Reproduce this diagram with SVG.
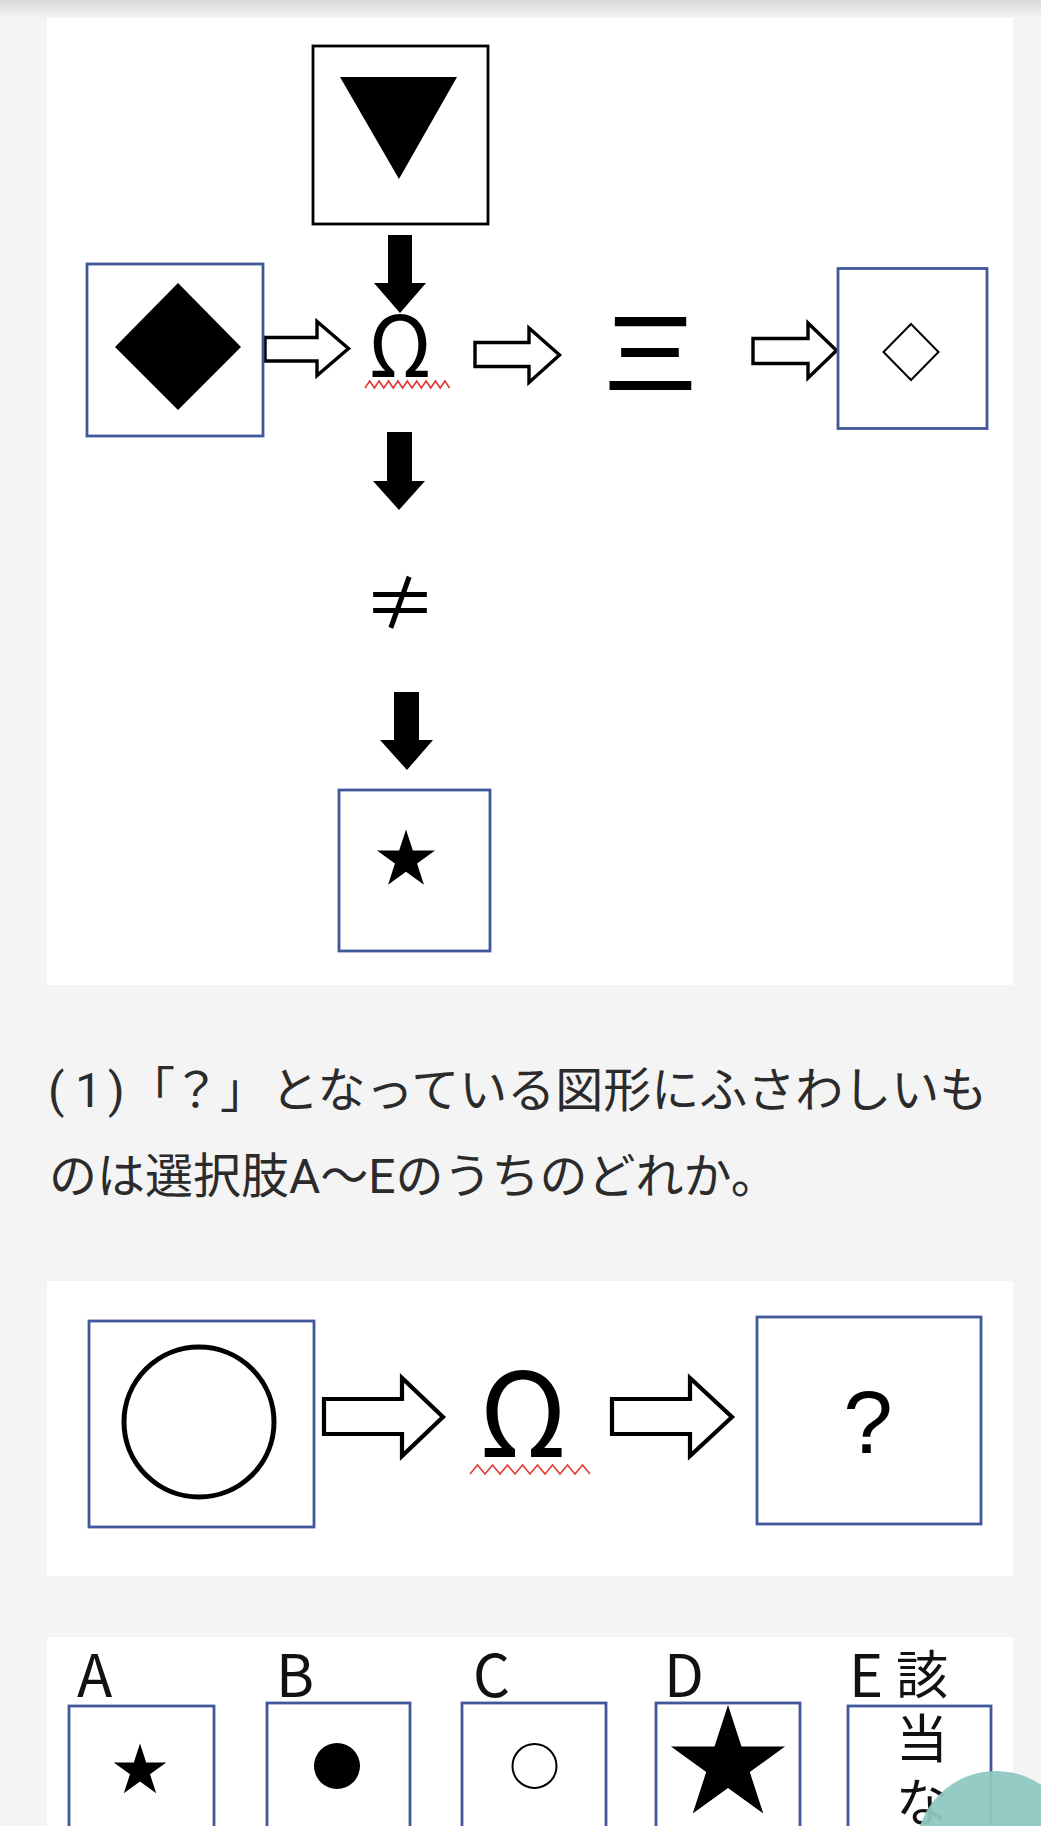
<svg xmlns="http://www.w3.org/2000/svg" width="1041" height="1826" viewBox="0 0 1041 1826">
<defs>
<linearGradient id="shadow" x1="0" y1="0" x2="0" y2="1">
<stop offset="0" stop-color="#d9d9d9"/>
<stop offset="1" stop-color="#f4f4f4"/>
</linearGradient>
<style>
.panel{fill:#ffffff}
.bbox{fill:#ffffff;stroke:#40589a;stroke-width:2.8}
.kbox{fill:#ffffff;stroke:#000000;stroke-width:2.8}
.solid{fill:#000000}
.hollow{fill:#ffffff;stroke:#000000;stroke-width:3.4;stroke-linejoin:miter}
.sym{font-family:"Noto Sans CJK JP","Noto Sans",sans-serif;fill:#000000}
.zig{fill:none;stroke:#e53935;stroke-width:1.6}
.body{font-family:Roboto,"Noto Sans CJK JP",sans-serif;font-size:48px;fill:#2b2b2b}
.lab{font-family:"Noto Sans CJK JP",sans-serif;fill:#111111}
</style>
</defs>
<rect x="0" y="0" width="1041" height="1826" fill="#f4f4f4"/>
<rect x="0" y="0" width="1041" height="18" fill="url(#shadow)"/>
<rect class="panel" x="47" y="18" width="966" height="967"/>
<rect class="panel" x="47" y="1281" width="966" height="295"/>
<rect class="panel" x="47" y="1637" width="966" height="200"/>

<g id="connectors">
<path class="solid" d="M388,235 H412 V283 H426 L400,313 L374,283 H388 Z"/>
<path class="solid" d="M387,432 H412 V481 H425 L399,510 L373,481 H387 Z"/>
<path class="solid" d="M394,692 H419 V740 H433 L407,770 L380,740 H394 Z"/>
<path class="hollow" d="M265,337.5 H317 V321.5 L348.5,348.5 L317,375.5 V361 H265 Z"/>
<path class="hollow" d="M475,342.5 H529 V328 L559.5,355 L529,382.5 V366.5 H475 Z"/>
<path class="hollow" d="M753,338.5 H808 V323 L836.5,350.5 L808,378 V363.5 H753 Z"/>
<path class="hollow" style="stroke-width:4.2" d="M324,1399 H402 V1378 L443,1417 L402,1456 V1434 H324 Z"/>
<path class="hollow" style="stroke-width:4.2" d="M612,1399 H690 V1378 L732,1417 L690,1456 V1434 H612 Z"/>
</g>

<g id="node-triangle">
<rect class="kbox" x="313" y="46" width="175" height="178"/>
<polygon class="solid" points="340,77 457,77 399,179"/>
</g>
<g id="node-diamond">
<rect class="bbox" x="87" y="264" width="176" height="172"/>
<polygon class="solid" points="178,283 241,347 178,410 115,347"/>
</g>
<g id="node-omega1">
<text class="sym" x="400" y="377" font-size="84" text-anchor="middle">Ω</text>
<polyline class="zig" points="365,388 369.7,381 374.4,388 379.1,381 383.8,388 388.5,381 393.2,388 397.9,381 402.6,388 407.3,381 412,388 416.7,381 421.4,388 426.1,381 430.8,388 435.5,381 440.2,388 444.9,381 449.6,388"/>
</g>
<g id="node-san">
<text class="sym" x="650.5" y="388" font-size="94" font-weight="500" text-anchor="middle">三</text>
</g>
<g id="node-hdiamond">
<rect class="bbox" x="838" y="268.5" width="149" height="160"/>
<polygon points="911,324 938.5,352 911,380 883.5,352" fill="#ffffff" stroke="#000000" stroke-width="2"/>
</g>
<g id="node-neq">
<text class="sym" x="400" y="630" font-size="74" text-anchor="middle">≠</text>
</g>
<g id="node-star">
<rect class="bbox" x="339" y="790" width="151" height="161"/>
<polygon class="solid" points="406,829.5 412.85,850.57 435.01,850.58 417.08,863.6 423.93,884.67 406,871.65 388.07,884.67 394.92,863.6 376.99,850.58 399.15,850.57"/>
</g>

<g id="question-text">
<text class="body" y="1107"><tspan x="48">(</tspan><tspan x="75">1</tspan><tspan x="108">)</tspan><tspan x="127">「</tspan><tspan x="172">？</tspan><tspan x="220">」</tspan><tspan x="271">となっている図形にふさわしいも</tspan></text>
<text class="body" x="49" y="1193">のは選択肢A〜Eのうちのどれか。</text>
</g>

<g id="node-circle">
<rect class="bbox" x="89" y="1321" width="225" height="206"/>
<circle cx="199" cy="1422" r="75" fill="none" stroke="#000000" stroke-width="5"/>
</g>
<g id="node-omega2">
<text class="sym" x="523" y="1457" font-size="117" text-anchor="middle">Ω</text>
<polyline class="zig" points="470,1474 477.5,1465 485,1474 492.5,1465 500,1474 507.5,1465 515,1474 522.5,1465 530,1474 537.5,1465 545,1474 552.5,1465 560,1474 567.5,1465 575,1474 582.5,1465 590,1474"/>
</g>
<g id="node-question">
<rect class="bbox" x="757" y="1317" width="224" height="207"/>
<text x="868" y="1453" font-family="'Liberation Sans',sans-serif" font-size="89" text-anchor="middle" fill="#000000">?</text>
</g>

<g id="option-a">
<text class="lab" x="77" y="1697" font-size="58">A</text>
<rect class="bbox" x="69" y="1706" width="145" height="200"/>
<polygon class="solid" points="140,1743.4 146.2,1762.47 166.25,1762.47 150.02,1774.26 156.22,1793.33 140,1781.54 123.78,1793.33 129.98,1774.26 113.75,1762.47 133.8,1762.47"/>
</g>
<g id="option-b">
<text class="lab" x="276" y="1697" font-size="58">B</text>
<rect class="bbox" x="267" y="1703" width="143" height="200"/>
<circle cx="337" cy="1766" r="23" fill="#000000"/>
</g>
<g id="option-c">
<text class="lab" x="473" y="1697" font-size="58">C</text>
<rect class="bbox" x="462" y="1703" width="144" height="200"/>
<circle cx="534.5" cy="1766" r="22" fill="none" stroke="#000000" stroke-width="2"/>
</g>
<g id="option-d">
<text class="lab" x="664" y="1697" font-size="58">D</text>
<rect class="bbox" x="656" y="1703" width="144" height="200"/>
<polygon class="solid" points="728,1705 741.47,1746.46 785.07,1746.46 749.8,1772.08 763.27,1813.54 728,1787.92 692.73,1813.54 706.2,1772.08 670.93,1746.46 714.53,1746.46"/>
</g>
<g id="option-e">
<rect class="bbox" x="848" y="1706" width="143" height="200"/>
<text class="lab"><tspan x="849" y="1697" font-size="58">E</tspan><tspan x="896" y="1694" font-size="52">該</tspan><tspan x="896" y="1758" font-size="52">当</tspan><tspan x="896" y="1822" font-size="52">な</tspan></text>
</g>

<circle cx="996" cy="1851" r="80" fill="#8ec9c2" fill-opacity="0.95"/>
</svg>
